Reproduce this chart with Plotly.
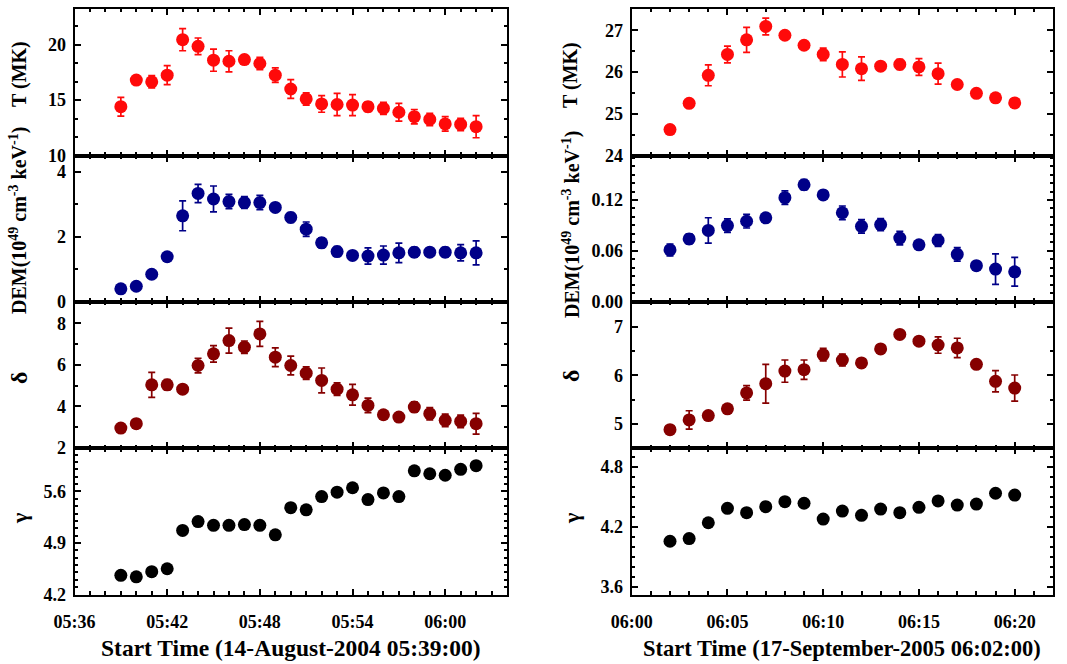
import plotly.graph_objects as go

# ---------------- data ----------------
time_left = ["2004-08-14 05:%02d:00" % m for m in range(39, 60)] + \
            ["2004-08-14 06:%02d:00" % m for m in range(0, 3)]
T_left = [14.4, 16.8, 16.65, 17.25, 20.45, 19.85, 18.6, 18.5, 18.65, 18.3, 17.25, 16.0,
          15.1, 14.65, 14.6, 14.55, 14.4, 14.25, 13.9, 13.5, 13.25, 12.85, 12.8, 12.6]
T_left_err = [0.85, 0.35, 0.55, 0.85, 1.0, 0.75, 1.0, 0.95, 0.3, 0.55, 0.65, 0.85,
              0.55, 0.75, 1.0, 0.95, 0.45, 0.55, 0.8, 0.65, 0.55, 0.65, 0.55, 1.0]
DEM_left = [0.39, 0.47, 0.84, 1.38, 2.64, 3.33, 3.16, 3.08, 3.05, 3.05, 2.9, 2.59,
            2.23, 1.81, 1.54, 1.42, 1.40, 1.43, 1.5, 1.52, 1.52, 1.52, 1.5, 1.5]
DEM_left_err = [0.05, 0.05, 0.08, 0.08, 0.46, 0.28, 0.4, 0.22, 0.18, 0.22, 0.1, 0.15,
                0.22, 0.15, 0.15, 0.08, 0.25, 0.28, 0.3, 0.15, 0.08, 0.15, 0.25, 0.37]
delta_left = [2.96, 3.17, 5.04, 5.04, 4.83, 5.97, 6.53, 7.17, 6.85, 7.49, 6.37, 5.97,
              5.6, 5.25, 4.83, 4.56, 4.05, 3.6, 3.49, 3.97, 3.65, 3.33, 3.28, 3.17]
delta_left_err = [0.1, 0.2, 0.6, 0.25, 0.2, 0.35, 0.4, 0.6, 0.3, 0.6, 0.45, 0.45,
                  0.3, 0.6, 0.3, 0.5, 0.35, 0.15, 0.15, 0.25, 0.3, 0.3, 0.3, 0.5]
gamma_left = [4.46, 4.44, 4.51, 4.55, 5.07, 5.19, 5.14, 5.14, 5.15, 5.14, 5.01, 5.38,
              5.35, 5.53, 5.59, 5.65, 5.49, 5.58, 5.53, 5.88, 5.84, 5.82, 5.90, 5.95]

time_right = ["2005-09-17 06:%02d:00" % m for m in range(2, 21)]
T_right = [24.62, 25.25, 25.92, 26.42, 26.77, 27.09, 26.88, 26.64, 26.42, 26.18,
           26.08, 26.14, 26.18, 26.12, 25.96, 25.70, 25.49, 25.38, 25.26]
T_right_err = [0.05, 0.05, 0.25, 0.2, 0.3, 0.2, 0.05, 0.05, 0.15, 0.3,
               0.28, 0.1, 0.12, 0.2, 0.25, 0.05, 0.05, 0.05, 0.05]
DEM_right = [0.061, 0.074, 0.084, 0.0897, 0.0949, 0.0989, 0.1228, 0.138, 0.126, 0.1049,
             0.0889, 0.0909, 0.075, 0.067, 0.0722, 0.0558, 0.0423, 0.0383, 0.0351]
DEM_right_err = [0.007, 0.006, 0.015, 0.008, 0.008, 0.005, 0.008, 0.006, 0.005, 0.008,
                 0.008, 0.007, 0.008, 0.003, 0.007, 0.008, 0.005, 0.018, 0.017]
delta_right = [4.88, 5.08, 5.17, 5.31, 5.64, 5.83, 6.09, 6.12, 6.43, 6.32,
               6.26, 6.55, 6.85, 6.71, 6.63, 6.57, 6.23, 5.88, 5.74]
delta_right_err = [0.03, 0.19, 0.06, 0.06, 0.15, 0.4, 0.23, 0.2, 0.13, 0.12,
                   0.05, 0.05, 0.05, 0.05, 0.17, 0.2, 0.05, 0.22, 0.27]
gamma_right = [4.058, 4.085, 4.243, 4.387, 4.344, 4.404, 4.454, 4.438, 4.28, 4.36,
               4.317, 4.38, 4.344, 4.397, 4.461, 4.42, 4.43, 4.538, 4.52]

x_title_left = "Start Time (14-August-2004 05:39:00)"
x_title_right = "Start Time (17-September-2005 06:02:00)"
dem_title = "DEM(10<sup>49</sup> cm<sup>-3</sup> keV<sup>-1</sup>)"

RED = "#ff0a0a"
BLUE = "#000088"
DRED = "#860000"
BLACK = "#000000"
FONT = "Liberation Serif"

W, H = 1067, 664
fig = go.Figure()

# panel geometry (pixels)
rows_px = [(8.5, 155.5), (155.5, 301.5), (301.5, 448.0), (448.0, 594.5)]
ydom = [[1 - b / H, 1 - t / H] for t, b in rows_px]
xdom_left = [74.5 / W, 507.0 / W]
xdom_right = [631.7 / W, 1053.0 / W]

panels = [
    # (col, row, x, y, err, color, yrange, dtick, tick0, minor, fmt)
    (0, 0, time_left, T_left, T_left_err, RED, [10, 23.26], 5, 10, 5 / 3, None),
    (0, 1, time_left, DEM_left, DEM_left_err, BLUE, [0, 4.5], 2, 0, 1, None),
    (0, 2, time_left, delta_left, delta_left_err, DRED, [2, 9.05], 2, 2, 1, None),
    (0, 3, time_left, gamma_left, None, BLACK, [4.2, 6.19], 0.7, 4.2, 0.1, ".1f"),
    (1, 0, time_right, T_right, T_right_err, RED, [24, 27.52], 1, 24, 0.5, None),
    (1, 1, time_right, DEM_right, DEM_right_err, BLUE, [0, 0.1726], 0.06, 0, 0.01, ".2f"),
    (1, 2, time_right, delta_right, delta_right_err, DRED, [4.5, 7.53], 1, 5, 0.5, None),
    (1, 3, time_right, gamma_right, None, BLACK, [3.526, 4.99], 0.6, 3.6, 0.1, ".1f"),
]

tickfont = dict(family=FONT, size=18, color="black", weight="bold")
layout_axes = {}
for i, (col, row, xs, ys, err, color, yr, dt, t0, mn, fmt) in enumerate(panels):
    n = i + 1
    xname = "x" if n == 1 else "x%d" % n
    yname = "y" if n == 1 else "y%d" % n
    tr = dict(x=xs, y=ys, mode="markers", xaxis=xname, yaxis=yname,
              marker=dict(size=13, color=color, line=dict(width=0)),
              showlegend=False)
    if err is not None:
        tr["error_y"] = dict(type="data", array=err, visible=True,
                             color=color, thickness=1.7, width=3.5)
    fig.add_trace(go.Scatter(**tr))

    if col == 0:
        xr = ["2004-08-14 05:36:00", "2004-08-14 06:04:00"]
        xdt = 6 * 60 * 1000
        xt0 = "2004-08-14 05:36:00"
        xd = xdom_left
    else:
        xr = ["2005-09-17 06:00:00", "2005-09-17 06:22:00"]
        xdt = 5 * 60 * 1000
        xt0 = "2005-09-17 06:00:00"
        xd = xdom_right
    xa = dict(domain=xd, range=xr, type="date", anchor=yname, automargin=False,
              tickmode="linear", tick0=xt0, dtick=xdt, tickformat="%H:%M",
              ticks="inside", ticklen=6, tickwidth=2, tickcolor="black",
              showline=True, linecolor="black", linewidth=2, mirror="allticks",
              showgrid=False, zeroline=False,
              showticklabels=(row == 3), tickfont=tickfont, ticklabelstandoff=10,
              minor=dict(dtick=60 * 1000, tick0=xt0, ticks="inside", ticklen=3.5,
                         tickwidth=1.5, tickcolor="black", showgrid=False))
    ya = dict(domain=ydom[row], range=yr, anchor=xname, automargin=False,
              tickmode="linear", tick0=t0, dtick=dt,
              ticks="inside", ticklen=6, tickwidth=2, tickcolor="black",
              showline=True, linecolor="black", linewidth=2, mirror="allticks",
              showgrid=False, zeroline=False, tickfont=tickfont, ticklabelstandoff=3,
              minor=dict(dtick=mn, tick0=t0, ticks="inside", ticklen=3.5,
                         tickwidth=1.5, tickcolor="black", showgrid=False))
    if fmt:
        ya["tickformat"] = fmt
    layout_axes["xaxis" if n == 1 else "xaxis%d" % n] = xa
    layout_axes["yaxis" if n == 1 else "yaxis%d" % n] = ya

fig.update_layout(**layout_axes)

ann = []
ytitles = ["T (MK)", dem_title, "δ", "γ"]
ysizes = [20, 20, 24, 22]
ycent = [[74, 221, 378, 519], [75, 225, 376, 519]]
for col, xc in ((0, 19), (1, 571)):
    for row, txt in enumerate(ytitles):
        yc = ycent[col][row]
        ann.append(dict(text=txt, xref="paper", yref="paper",
                        x=xc / W, y=1 - yc / H, xanchor="center", yanchor="middle",
                        textangle=-90, showarrow=False,
                        font=dict(family=FONT, size=ysizes[row], color="black",
                                  weight="bold")))
ann.append(dict(text=x_title_left, xref="paper", yref="paper", x=291 / W, y=1 - 648 / H,
                xanchor="center", yanchor="middle", showarrow=False,
                font=dict(family=FONT, size=23.5, color="black", weight="bold")))
ann.append(dict(text=x_title_right, xref="paper", yref="paper", x=842 / W, y=1 - 648 / H,
                xanchor="center", yanchor="middle", showarrow=False,
                font=dict(family=FONT, size=22.5, color="black", weight="bold")))

fig.update_layout(template="none", width=W, height=H,
                  margin=dict(l=0, r=0, t=0, b=0, pad=0, autoexpand=False),
                  paper_bgcolor="white", plot_bgcolor="white",
                  annotations=ann, showlegend=False)

fig.write_html("out.html",
               config={"displayModeBar": False},
               post_script="document.body.style.margin='0px';"
                           "document.body.style.overflow='hidden';")
